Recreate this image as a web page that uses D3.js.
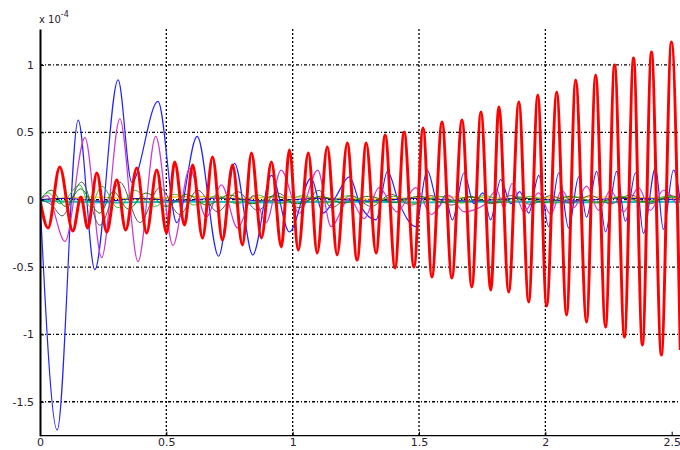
<!DOCTYPE html>
<html>
<head>
<meta charset="utf-8">
<script src="https://cdn.jsdelivr.net/npm/d3@7"></script>
<style>
  body { margin: 0; background: #fff; }
  svg { display: block; }
  text { font-family: "DejaVu Sans", sans-serif; }
</style>
</head>
<body>
<div id="chart"></div>
<script>
// tick labels
const xTicks = [0, 0.5, 1, 1.5, 2, 2.5];
const yTicks = [-1.5, -1, -0.5, 0, 0.5, 1];

// extrema, [time, value in 1e-4]
const red = [[0,0],[0.032,-0.21],[0.078,0.243],[0.130,-0.232],[0.162,0.02],[0.189,-0.21],[0.225,0.198],[0.264,-0.24],
  [0.304,0.146],[0.339,-0.225],[0.383,0.235],[0.422,-0.247],[0.462,0.22],[0.501,-0.247],[0.533,0.28],[0.572,-0.188],
  [0.604,0.258],[0.643,-0.284],[0.683,0.317],[0.722,-0.299],[0.762,0.258],[0.801,-0.336],[0.837,0.347],[0.876,-0.284],
  [0.916,0.28],[0.955,-0.351],[0.987,0.369],[1.022,-0.373],[1.062,0.347],[1.097,-0.396],[1.137,0.391],[1.176,-0.41],
  [1.216,0.421],[1.255,-0.448],[1.291,0.421],[1.330,-0.396],[1.366,0.48],[1.405,-0.507],[1.441,0.503],[1.480,-0.5],
  [1.516,0.532],[1.551,-0.574],[1.591,0.577],[1.630,-0.581],[1.670,0.592],[1.709,-0.648],[1.745,0.651],[1.784,-0.67],
  [1.816,0.688],[1.855,-0.685],[1.895,0.725],[1.934,-0.76],[1.970,0.777],[2.005,-0.789],[2.045,0.8],[2.084,-0.856],
  [2.120,0.889],[2.163,-0.908],[2.199,0.926],[2.238,-0.945],[2.274,1.0],[2.313,-1.019],[2.349,1.052],[2.384,-1.078],
  [2.420,1.097],[2.459,-1.153],[2.499,1.171],[2.534,-1.116]];

const blue = [[0,0],[0.068,-1.71],[0.151,0.59],[0.217,-0.52],[0.309,0.89],[0.363,0.13],[0.467,0.73],[0.541,-0.17],
  [0.622,0.47],[0.707,-0.42],[0.770,0.27],[0.842,-0.41],[0.916,0.18],[0.987,-0.24],[1.073,0.16],[1.12,-0.10],
  [1.17,0.02],[1.224,0.17],[1.27,-0.05],[1.33,-0.15],[1.375,0.21],[1.42,-0.02],[1.487,-0.20],[1.532,0.22],
  [1.579,-0.05],[1.603,0.03],[1.632,-0.15],[1.678,0.20],[1.717,-0.03],[1.753,0.05],[1.783,-0.15],[1.823,0.15],
  [1.863,-0.03],[1.899,0.06],[1.934,-0.10],[1.974,0.18],[2.013,-0.20],[2.053,0.20],[2.092,-0.21],[2.132,0.17],
  [2.163,-0.13],[2.203,0.21],[2.238,-0.24],[2.282,0.21],[2.317,-0.16],[2.357,0.20],[2.388,-0.25],[2.436,0.24],
  [2.467,-0.22],[2.507,0.22],[2.54,-0.1]];

const magenta = [[0,0],[0.028,0.03],[0.099,-0.31],[0.178,0.46],[0.244,-0.43],[0.316,0.60],[0.388,-0.46],[0.458,0.47],
  [0.526,-0.34],[0.592,0.23],[0.658,-0.13],[0.718,0.11],[0.782,-0.21],[0.845,0.03],[0.895,-0.17],[0.954,0.22],
  [1.026,-0.10],[1.099,0.22],[1.152,-0.20],[1.224,0.01],[1.283,-0.14],[1.342,0.09],[1.413,-0.09],[1.487,0.09],
  [1.548,-0.11],[1.619,0.03],[1.678,-0.09],[1.757,-0.04],[1.808,0.07],[1.836,-0.06],[1.868,0.12],[1.915,-0.09],
  [1.974,0.05],[2.021,-0.11],[2.065,0.07],[2.112,-0.06],[2.163,0.10],[2.211,-0.08],[2.258,0.07],[2.309,-0.09],
  [2.369,0.09],[2.416,-0.08],[2.467,0.07],[2.527,-0.06]];

const gray = [[0,0],[0.047,-0.04],[0.087,-0.12],[0.165,0.13],[0.237,-0.19],[0.316,0.13],[0.395,-0.17],[0.474,0.09],
  [0.553,-0.11],[0.624,0.07],[0.703,-0.09],[0.782,0.06],[0.861,-0.08],[0.940,0.05],[1.026,-0.06],[1.105,0.07],
  [1.153,-0.06],[1.232,0.03],[1.311,-0.05],[1.39,0.04],[1.469,-0.04],[1.548,0.03],[1.627,-0.04],[1.705,0.025],
  [1.784,-0.03],[1.863,0.03],[1.942,-0.035],[2.021,0.03],[2.10,-0.025],[2.179,0.03],[2.258,-0.03],[2.337,0.035],
  [2.416,-0.03],[2.495,0.03],[2.54,0]];

const green = [[0,0],[0.033,0.05],[0.079,-0.03],[0.158,0.11],[0.197,-0.05],[0.245,0.10],[0.308,-0.06],[0.375,0.07],
  [0.454,-0.05],[0.533,0.04],[0.612,-0.04],[0.70,0.03],[0.78,-0.03],[0.86,0.035],[0.95,-0.03],[1.04,0.03],
  [1.13,-0.025],[1.22,0.03],[1.31,-0.025],[1.40,0.025],[1.49,-0.03],[1.58,0.025],[1.67,-0.025],[1.76,0.03],
  [1.85,-0.02],[1.94,0.025],[2.03,-0.025],[2.12,0.02],[2.21,-0.025],[2.30,0.025],[2.39,-0.02],[2.48,0.025],[2.54,0]];

const darkGreen = [[0,0],[0.045,0.07],[0.10,-0.05],[0.16,0.08],[0.237,-0.10],[0.29,0.06],[0.35,-0.07],[0.42,0.05],
  [0.50,-0.05],[0.58,0.04],[0.66,-0.04],[0.75,0.035],[0.84,-0.03],[0.93,0.03],[1.02,-0.03],[1.11,0.025],
  [1.20,-0.025],[1.30,0.025],[1.40,-0.02],[1.50,0.025],[1.60,-0.02],[1.70,0.02],[1.80,-0.025],[1.90,0.02],
  [2.00,-0.02],[2.10,0.025],[2.20,-0.02],[2.30,0.02],[2.40,-0.02],[2.50,0.02],[2.54,0]];

const yellow = [[0,0],[0.2,0.02],[0.4,0.005],[0.6,0.025],[0.8,0.01],[1.0,0.02],[1.3,0.005],[1.6,0.02],[1.9,0.01],
  [2.2,0.02],[2.54,0.01]];

const cyan = [[0,-0.01],[0.3,-0.02],[0.6,-0.015],[0.9,-0.02],[1.2,-0.015],[1.5,-0.02],[1.8,-0.015],[2.1,-0.02],[2.54,-0.015]];

const blueLow = [[0,0],[0.1,0.01],[0.25,-0.012],[0.4,0.01],[0.55,-0.01],[0.7,0.012],[0.9,-0.01],[1.1,0.01],[1.3,-0.01],
  [1.5,0.01],[1.7,-0.01],[1.9,0.01],[2.1,-0.01],[2.3,0.01],[2.54,0]];

const width = 680, height = 450;

const svg = d3.select("#chart").append("svg")
    .attr("width", width)
    .attr("height", height);

svg.append("rect").attr("width", width).attr("height", height).attr("fill", "#fff");

// scales
const x = d3.scaleLinear().domain([0, 2.5]).range([40, 671.7]);
const y = d3.scaleLinear().domain([-1.752, 1.267]).range([435.7, 29]);

// grid (dotted, black)
svg.append("g").selectAll("line")
    .data(yTicks)
    .join("line")
    .attr("x1", 40).attr("x2", width)
    .attr("y1", d => y(d)).attr("y2", d => y(d))
    .attr("stroke", "#000")
    .attr("stroke-width", 1.3)
    .attr("stroke-dasharray", "3,2,1,2");

svg.append("g").selectAll("line")
    .data(xTicks.filter(d => d > 0 && d < 2.5))
    .join("line")
    .attr("x1", d => x(d)).attr("x2", d => x(d))
    .attr("y1", y.range()[1]).attr("y2", y.range()[0])
    .attr("stroke", "#000")
    .attr("stroke-width", 1.3)
    .attr("stroke-dasharray", "2,2");

// curves
svg.append("clipPath").attr("id", "plot")
    .append("rect").attr("x", 40).attr("y", 29).attr("width", width - 40).attr("height", 435.7 - 29);

const line = d3.line()
    .x(d => x(d[0]))
    .y(d => y(d[1]))
    .curve(d3.curveMonotoneX);

const series = [
    { data: cyan, color: "#00c8c8", w: 2 },
    { data: yellow, color: "#e6c800", w: 1.2 },
    { data: blueLow, color: "#0000cc", w: 1 },
    { data: blue, color: "#2323ff", w: 1.2 },
    { data: magenta, color: "#cc3ccc", w: 1.2 },
    { data: gray, color: "#555555", w: 1 },
    { data: darkGreen, color: "#007a00", w: 1 },
    { data: green, color: "#2fbf2f", w: 1 },
    { data: red, color: "#ff0000", w: 3 }
];

svg.append("g")
    .attr("clip-path", "url(#plot)")
    .selectAll("path")
    .data(series)
    .join("path")
    .attr("fill", "none")
    .attr("stroke", d => d.color)
    .attr("stroke-width", d => d.w)
    .attr("stroke-linejoin", "round")
    .attr("d", d => line(d.data));

// axes
const yAxis = svg.append("g")
    .attr("transform", "translate(40,0)")
    .call(d3.axisLeft(y).tickValues(yTicks).tickFormat(d => String(d))
        .tickSizeInner(-4).tickSizeOuter(0).tickPadding(6));
yAxis.select(".domain").attr("stroke-width", 2);

const xAxis = svg.append("g")
    .attr("transform", "translate(0,435.7)")
    .call(d3.axisBottom(x).tickValues(xTicks).tickFormat(d => String(d))
        .tickSizeInner(-4).tickSizeOuter(0).tickPadding(3));
xAxis.select(".domain").remove();
xAxis.append("line")
    .attr("x1", 40).attr("x2", width)
    .attr("stroke", "#000").attr("stroke-width", 1.3);

svg.selectAll(".tick text")
    .attr("font-size", 11)
    .attr("fill", "#2a2030")
    .style("font-family", "'DejaVu Sans', sans-serif");

// exponent label
const expo = svg.append("text")
    .attr("x", 39).attr("y", 23)
    .attr("font-size", 10)
    .attr("fill", "#2a2030");
expo.append("tspan").text("x 10");
expo.append("tspan").attr("dy", -6).attr("font-size", 8).text("-4");
</script>
</body>
</html>
